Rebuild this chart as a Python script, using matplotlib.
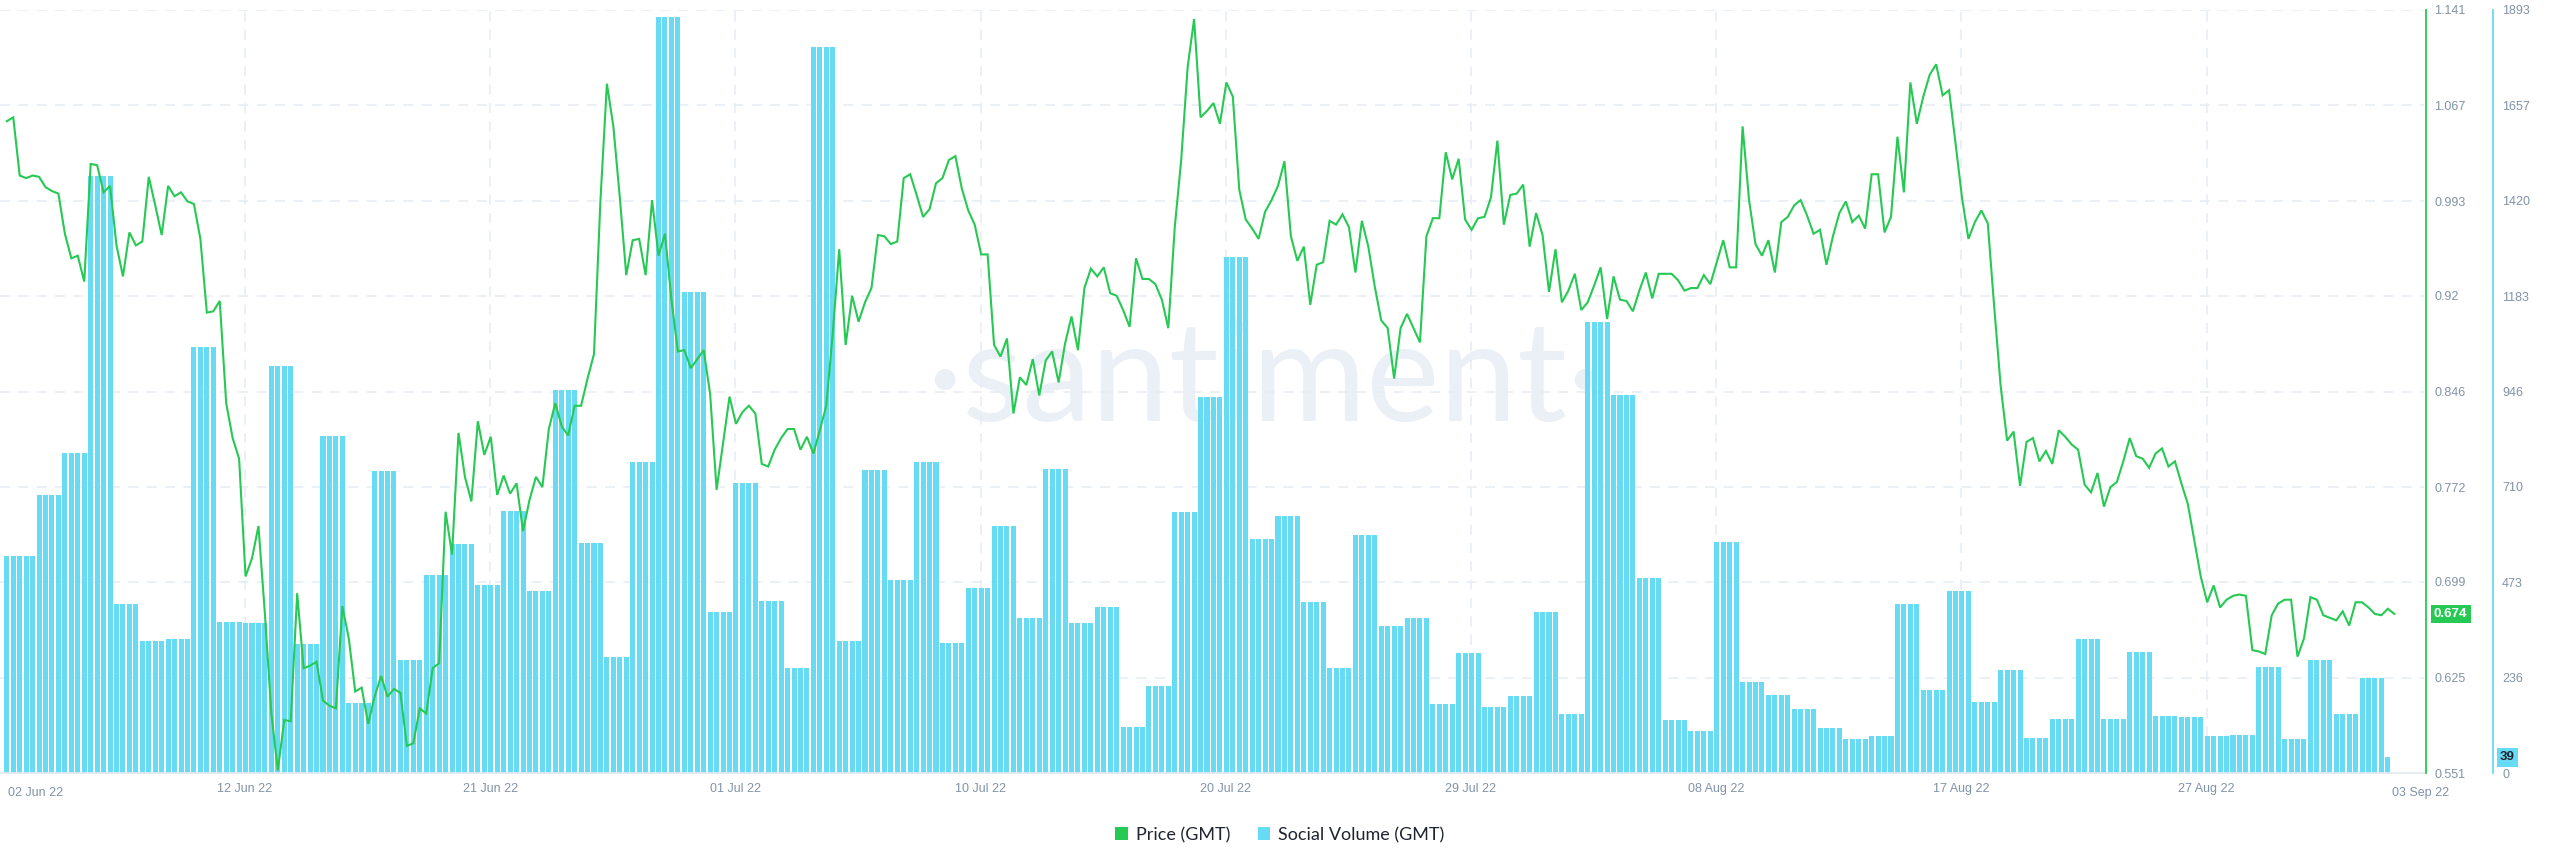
import numpy as np
import matplotlib
matplotlib.use("Agg")
import matplotlib.pyplot as plt
from matplotlib.patches import Patch
from matplotlib.transforms import blended_transform_factory

plt.rcParams['font.family'] = ['Liberation Sans', 'DejaVu Sans']

# ---------------- data ----------------
# Social volume (GMT), one value per day-bar (drawn as 6-hour stripes)
volume = [539, 689, 793, 1482, 419, 327, 332, 1056, 374, 372, 1011, 320, 836, 174, 749,
          280, 492, 568, 466, 650, 451, 949, 571, 288, 771, 1876, 1193, 399, 719, 426,
          260, 1800, 327, 751, 478, 771, 322, 459, 613, 385, 755, 373, 413, 114, 217,
          648, 932, 1281, 580, 638, 425, 260, 590, 365, 385, 171, 297, 163, 191, 400,
          146, 1120, 937, 483, 132, 105, 573, 227, 194, 160, 111, 84, 91, 419, 206,
          451, 175, 255, 87, 133, 332, 133, 301, 141, 138, 92, 95, 264, 85, 280,
          146, 236, 39]
# number of 6h stripes shown for each day-bar (first and last days are partial)
stripes_per_bar = [5] + [4] * 91 + [1]

# Price (GMT), 6-hour samples
price = [
    1.055, 1.058, 1.013, 1.011, 1.013, 1.012, 1.004, 1.001, 0.999, 0.968, 0.949, 0.951,
    0.931, 1.022, 1.021, 1.000, 1.005, 0.959, 0.935, 0.969, 0.959, 0.962, 1.012, 0.990,
    0.967, 1.005, 0.997, 1.000, 0.993, 0.991, 0.964, 0.907, 0.908, 0.916, 0.837, 0.810,
    0.794,
    0.703, 0.717, 0.742, 0.674, 0.597, 0.553, 0.592, 0.591, 0.690, 0.632, 0.634, 0.637,
    0.607, 0.603, 0.601, 0.680, 0.655, 0.614, 0.617, 0.589, 0.610, 0.626, 0.610, 0.616,
    0.613, 0.572, 0.574, 0.601, 0.597, 0.632, 0.636, 0.753, 0.720, 0.814, 0.780, 0.761,
    0.823, 0.797, 0.811, 0.766, 0.781, 0.767, 0.775, 0.738, 0.762, 0.780, 0.772,
    0.817, 0.837, 0.819, 0.812, 0.835, 0.835, 0.856, 0.875, 0.994, 1.084, 1.051, 0.996,
    0.936, 0.963, 0.964,
    0.936, 0.994, 0.951, 0.968, 0.917, 0.877, 0.878, 0.864, 0.871, 0.878, 0.844, 0.770,
    0.806, 0.842, 0.821, 0.830, 0.835, 0.829, 0.790, 0.788, 0.801, 0.810, 0.817, 0.817,
    0.801, 0.811, 0.798, 0.816, 0.835, 0.891, 0.956, 0.882, 0.920, 0.900, 0.915, 0.926,
    0.967, 0.966, 0.960, 0.962, 1.011, 1.014, 0.998, 0.981, 0.987, 1.007, 1.011, 1.025,
    1.028, 1.003, 0.986, 0.975, 0.952, 0.952, 0.882, 0.873, 0.887, 0.829, 0.857, 0.851,
    0.871, 0.843, 0.870, 0.877, 0.853, 0.883, 0.904, 0.878, 0.926, 0.941, 0.935, 0.942,
    0.922, 0.920, 0.909, 0.896, 0.949, 0.933, 0.933, 0.929, 0.917, 0.895, 0.973, 1.025,
    1.097, 1.134, 1.058, 1.063, 1.069, 1.053, 1.085, 1.074, 1.002, 0.979, 0.972, 0.964,
    0.985, 0.994, 1.005,
    1.024, 0.966, 0.947, 0.958, 0.913, 0.944, 0.946, 0.978, 0.975, 0.983, 0.973, 0.938,
    0.978, 0.958, 0.927, 0.901, 0.895, 0.856, 0.895, 0.906, 0.895, 0.884, 0.966, 0.980,
    0.980, 1.031, 1.010, 1.026, 0.979, 0.971, 0.980, 0.981, 0.996, 1.040, 0.975, 0.998,
    0.999, 1.006, 0.958, 0.984, 0.967, 0.923, 0.956, 0.915, 0.924, 0.937, 0.909, 0.915,
    0.928, 0.942, 0.902, 0.935, 0.917, 0.916, 0.908, 0.924, 0.938, 0.918, 0.937, 0.937,
    0.937, 0.932, 0.924, 0.926, 0.926, 0.936, 0.929, 0.946, 0.963, 0.942, 0.942, 1.051,
    0.994, 0.960, 0.951, 0.963, 0.938, 0.977, 0.981, 0.990, 0.994, 0.982, 0.968, 0.971,
    0.944, 0.966, 0.984, 0.993, 0.977, 0.982, 0.972, 1.014, 1.014, 0.969, 0.981, 1.043,
    1.000, 1.085, 1.053,
    1.074, 1.091, 1.099, 1.075, 1.079, 1.038, 0.996, 0.964, 0.977, 0.986, 0.976, 0.911,
    0.850, 0.808,
    0.815, 0.773, 0.807, 0.810, 0.792, 0.800, 0.790, 0.816, 0.811, 0.805, 0.801, 0.774,
    0.768, 0.783, 0.757, 0.772, 0.776, 0.792, 0.810, 0.796, 0.794, 0.787, 0.798, 0.802,
    0.788, 0.792, 0.775, 0.759, 0.731, 0.703, 0.683, 0.696, 0.679, 0.685, 0.688, 0.689,
    0.688, 0.646, 0.645, 0.643, 0.673, 0.682, 0.685, 0.685, 0.641, 0.655, 0.687, 0.685,
    0.673, 0.671, 0.669, 0.676, 0.665, 0.683, 0.683, 0.679, 0.674, 0.673, 0.678, 0.674,
]

price_ticks = [0.551, 0.625, 0.699, 0.772, 0.846, 0.92, 0.993, 1.067, 1.141]
volume_ticks = [0, 236, 473, 710, 946, 1183, 1420, 1657, 1893]
date_labels = ['12 Jun 22', '21 Jun 22', '01 Jul 22', '10 Jul 22', '20 Jul 22',
               '29 Jul 22', '08 Aug 22', '17 Aug 22', '27 Aug 22']
date_tick_pos = [36.9, 74.9, 112.9, 150.9, 188.9, 226.9, 264.9, 302.9, 340.9]  # in 6h steps
edge_labels = ['02 Jun 22', '03 Sep 22']
edge_label_pos = [4.5, 374.0]
last_price_label = '0.674'
last_volume_label = '39'

# ---------------- style ----------------
GREEN = '#26c953'
CYAN = '#68dbf4'
TICK = '#8193a7'
GRID = '#e6edf4'

W, H = 2560, 867
fig = plt.figure(figsize=(W / 100, H / 100), dpi=100)
fig.patch.set_facecolor('white')

plot_left, plot_right, plot_top, plot_bottom = 0, 2424, 10, 773
ax = fig.add_axes([plot_left / W, 1 - plot_bottom / H,
                   (plot_right - plot_left) / W, (plot_bottom - plot_top) / H])
axp = ax.twinx()

x_bars = np.arange(sum(stripes_per_bar))
h_bars = np.repeat(volume, stripes_per_bar)
x_price = np.arange(len(price))

ax.set_xlim(-1.054, 374.6)
ax.set_ylim(0, 1893)
axp.set_ylim(0.551, 1.141)

# watermark
ax.text(195, 873, '·santiment·', ha='center', va='baseline', fontsize=100,
        color='#eaf0f6', family=['Lato', 'DejaVu Sans'], zorder=0.3)

ax.bar(x_bars, h_bars, width=0.78, color=CYAN, linewidth=0, zorder=2)
axp.plot(x_price, price, color=GREEN, lw=1.5, zorder=3, solid_joinstyle='miter')

# grids
ax.set_axisbelow(True)
ax.set_yticks(volume_ticks)
ax.set_yticklabels([str(v) for v in volume_ticks])
ax.set_xticks(date_tick_pos)
ax.set_xticklabels(date_labels)
ax.grid(True, axis='both', color=GRID, lw=1.2, linestyle=(0, (6, 5)))

axp.set_yticks(price_ticks)
axp.set_yticklabels([('%g' % v) if v != 0.92 else '0.92' for v in price_ticks])

# spines
for s in ['top', 'left']:
    ax.spines[s].set_visible(False)
    axp.spines[s].set_visible(False)
axp.spines['bottom'].set_visible(False)
ax.spines['bottom'].set_color('#e3e9ef')
ax.spines['bottom'].set_linewidth(1.2)
axp.spines['right'].set_position(('axes', 2426 / 2424))
axp.spines['right'].set_color(GREEN)
axp.spines['right'].set_linewidth(1.3)
ax.yaxis.tick_right()
ax.spines['right'].set_position(('axes', 2493 / 2424))
ax.spines['right'].set_color(CYAN)
ax.spines['right'].set_linewidth(1.3)

ax.tick_params(axis='y', length=0, pad=6.5, labelsize=9, labelcolor=TICK)
axp.tick_params(axis='y', length=0, pad=6.0, labelsize=9, labelcolor=TICK)
ax.tick_params(axis='x', length=0, pad=7, labelsize=9, labelcolor=TICK)

tr = blended_transform_factory(ax.transData, ax.transAxes)
for lab, pos in zip(edge_labels, edge_label_pos):
    ax.text(pos, -7 / 72 * 100 / 763 - 0.006, lab, transform=tr, ha='center', va='top',
            fontsize=9, color=TICK)

# last value tags
trp = blended_transform_factory(axp.transAxes, axp.transData)
axp.text(2434 / 2424, price[-1], last_price_label, transform=trp, ha='left', va='center',
         fontsize=9.5, color='white', fontweight='bold', zorder=5,
         bbox=dict(boxstyle='square,pad=0.25', facecolor=GREEN, edgecolor='none'))
trv = blended_transform_factory(ax.transAxes, ax.transData)
ax.text(2500 / 2424, volume[-1], last_volume_label, transform=trv, ha='left', va='center',
        fontsize=9.5, color='#1c2430', fontweight='bold', zorder=5, clip_on=False,
        bbox=dict(boxstyle='square,pad=0.25', facecolor=CYAN, edgecolor='none'))

# legend
handles = [Patch(facecolor=GREEN, edgecolor='none'), Patch(facecolor=CYAN, edgecolor='none')]
leg = fig.legend(handles, ['Price (GMT)', 'Social Volume (GMT)'], loc='center',
                 bbox_to_anchor=(1280 / W, 1 - 835 / H), ncol=2, frameon=False,
                 handlelength=0.7, handleheight=0.7, handletextpad=0.45, columnspacing=1.5,
                 prop={'family': ['Lato', 'DejaVu Sans'], 'size': 13})
for t in leg.get_texts():
    t.set_color('#1e2430')

fig.savefig('out.png', dpi=100, facecolor='white')
